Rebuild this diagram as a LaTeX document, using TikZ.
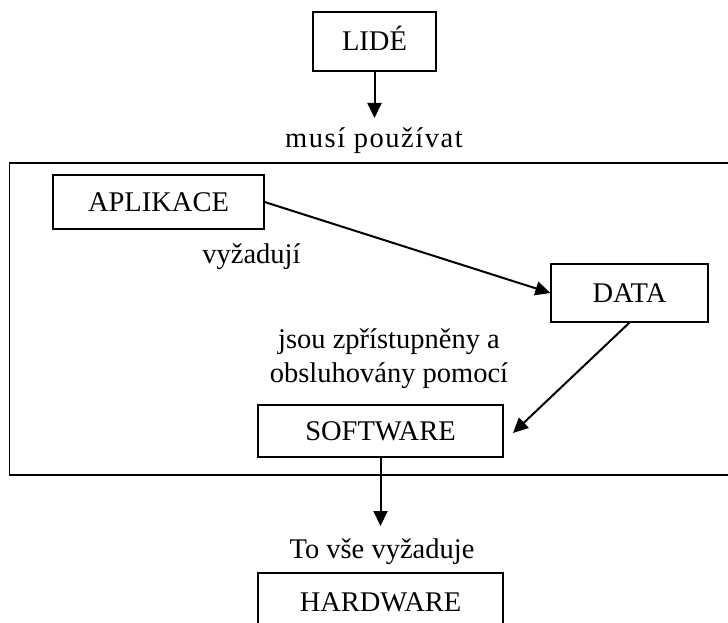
\documentclass[tikz,border=0pt]{standalone}
\usepackage{fontspec}
\setmainfont{Liberation Serif}
\newfontfamily\widefont[LetterSpace=5.4]{Liberation Serif}
\usetikzlibrary{arrows.meta}
\begin{document}
\begin{tikzpicture}[x=1pt,y=-1pt,
  every node/.style={font=\fontsize{28.5}{34}\selectfont},
  box/.style={draw, line width=1.2pt, inner sep=0pt, text height=19pt, text depth=0pt, align=center},
  lbl/.style={inner sep=0pt, anchor=base},
  arr/.style={line width=2pt, -{Triangle[length=15pt,width=14pt]}}]
\useasboundingbox (0,0) rectangle (728,623);
\clip (0,0) rectangle (728,623);
\fill[white] (0,0) rectangle (728,623);
% outer frame (right edge lies beyond the page)
\draw[line width=1.2pt] (9.5,163) rectangle (745,475);
% boxes
\node[box, minimum width=123pt, minimum height=59pt] (lide) at (374.5,41.5) {LIDÉ};
\node[box, minimum width=211pt, minimum height=54pt] (apl) at (158.5,202) {APLIKACE};
\node[box, minimum width=157pt, minimum height=58pt] (data) at (629.5,293) {DATA};
\node[box, minimum width=245pt, minimum height=52pt] (sw) at (380.5,431) {SOFTWARE};
\node[box, minimum width=245pt, minimum height=58pt] (hw) at (380.5,602) {HARDWARE};
% labels
\node[lbl, font=\widefont\fontsize{28.5}{34}\selectfont] (l1) at (374,147) {musí používat};
\node[lbl] (l2) at (251.5,263) {vyžadují};
\node[lbl] (l3) at (389,348) {jsou zpřístupněny a};
\node[lbl] (l4) at (389,382) {obsluhovány pomocí};
\node[lbl] (l5) at (382,558) {To vše vyžaduje};
% connectors
\coordinate (t1) at (374.5,118);
\coordinate (t2) at (513,433);
\coordinate (t3) at (380.5,526);
\draw[arr] (lide.south) -- (t1);
\draw[arr] (apl.east) -- (data.west);
\draw[arr] (data.south) -- (t2);
\draw[arr] (sw.south) -- (t3);
\end{tikzpicture}
\end{document}
